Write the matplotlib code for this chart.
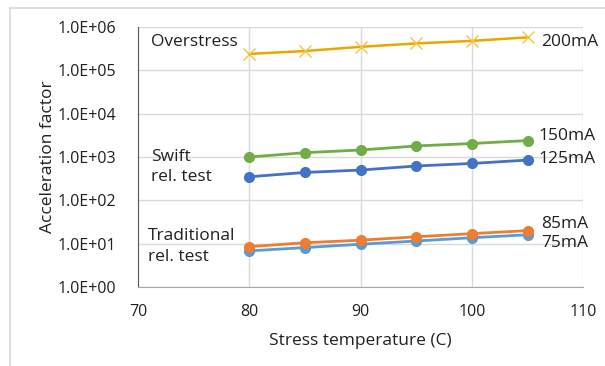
import matplotlib.pyplot as plt
from matplotlib.lines import Line2D
from matplotlib.ticker import FixedLocator, NullLocator

# Stress temperature (C)
temps = [80, 85, 90, 95, 100, 105]

# Acceleration factor per stress current
af_200 = [2.4e5, 2.8e5, 3.5e5, 4.2e5, 4.8e5, 5.8e5]
af_150 = [1.0e3, 1.26e3, 1.45e3, 1.8e3, 2.05e3, 2.4e3]
af_125 = [350, 440, 500, 620, 710, 850]
af_85 = [8.5, 10.5, 12.0, 14.4, 17.0, 20.0]
af_75 = [6.8, 8.1, 9.7, 11.5, 13.7, 16.0]

y_ticks = [1e0, 1e1, 1e2, 1e3, 1e4, 1e5, 1e6]
y_tick_labels = ['1.0E+00', '1.0E+01', '1.0E+02', '1.0E+03', '1.0E+04', '1.0E+05', '1.0E+06']
x_ticks = [70, 80, 90, 100, 110]

plt.rcParams['font.family'] = ['Open Sans', 'DejaVu Sans']
txt = '#202020'
fs = 12.5

fig = plt.figure(figsize=(6.05, 3.66), dpi=100)
ax = fig.add_axes([0.228, 0.216, 0.736, 0.710])

ax.plot(temps, af_200, color='#E8A800', lw=1.8, marker='x', ms=8, mew=1.0,
        markeredgecolor='#F5C242')
ax.plot(temps, af_150, color='#70AD47', lw=2, marker='o', ms=7)
ax.plot(temps, af_125, color='#4472C4', lw=2, marker='o', ms=7)
ax.plot(temps, af_75, color='#5B9BD5', lw=2, marker='o', ms=7)
ax.plot(temps, af_85, color='#ED7D31', lw=2, marker='o', ms=7)

ax.set_yscale('log')
ax.set_ylim(1, 1e6)
ax.set_xlim(70, 110)
ax.yaxis.set_major_locator(FixedLocator(y_ticks))
ax.yaxis.set_minor_locator(NullLocator())
ax.set_yticklabels(y_tick_labels)
ax.set_xticks(x_ticks)

ax.grid(True, color='#D9D9D9', lw=1)
ax.set_axisbelow(True)
for s in ['top', 'right']:
    ax.spines[s].set_visible(False)
ax.spines['left'].set_color('#595959')
ax.spines['bottom'].set_color('#A6A6A6')
ax.tick_params(length=0, labelsize=11.5, colors=txt, pad=16)
ax.tick_params(axis='x', pad=12)

ax.set_ylabel('Acceleration factor', fontsize=fs, color=txt, labelpad=1)
ax.set_xlabel('Stress temperature (C)', fontsize=fs, color=txt, labelpad=10)

# group annotations
ax.text(71.2, 4.5e5, 'Overstress', fontsize=fs, color=txt, va='center')
ax.text(71.2, 5.9e2, 'Swift\nrel. test', fontsize=fs, color=txt, va='center', linespacing=1.35)
ax.text(70.9, 8.5, 'Traditional\nrel. test', fontsize=fs, color=txt, va='center', linespacing=1.4)

# series labels at line ends
ax.text(106.2, 4.5e5, '200mA', fontsize=fs, color=txt, va='center')
ax.text(106.0, 3.0e3, '150mA', fontsize=fs, color=txt, va='center')
ax.text(106.0, 8.9e2, '125mA', fontsize=fs, color=txt, va='center')
ax.text(106.2, 2.9e1, '85mA', fontsize=fs, color=txt, va='center')
ax.text(106.2, 1.05e1, '75mA', fontsize=fs, color=txt, va='center')

# light chart frame
fig.add_artist(Line2D([0.017, 0.017], [0, 0.978], transform=fig.transFigure, color='#D9D9D9', lw=1.2))
fig.add_artist(Line2D([0.017, 1.0], [0.978, 0.978], transform=fig.transFigure, color='#D9D9D9', lw=1.2))

fig.savefig('out.png', dpi=100)
